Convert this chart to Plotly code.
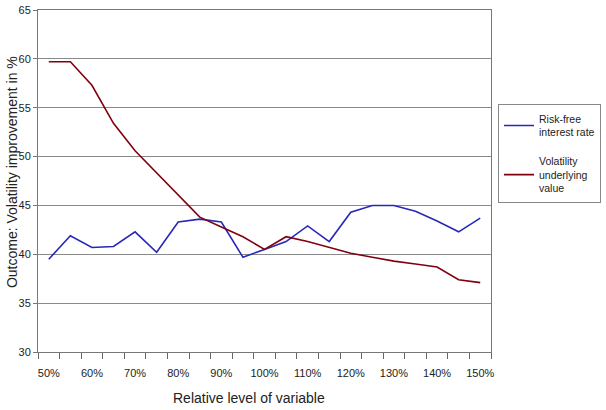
import plotly.graph_objects as go

levels = [50, 55, 60, 65, 70, 75, 80, 85, 90, 95, 100, 105, 110, 115, 120, 125, 130, 135, 140, 145, 150]
risk_free = [39.5, 41.9, 40.7, 40.8, 42.3, 40.2, 43.3, 43.6, 43.3, 39.7, 40.5, 41.3, 42.9, 41.3, 44.3, 45.0, 45.0, 44.4, 43.4, 42.3, 43.7]
volatility = [59.7, 59.7, 57.3, 53.4, 50.6, 48.3, 46.1, 43.8, 42.8, 41.8, 40.5, 41.8, 41.3, 40.7, 40.1, 39.7, 39.3, 39.0, 38.7, 37.4, 37.1]
x_tick_vals = [50, 60, 70, 80, 90, 100, 110, 120, 130, 140, 150]
x_tick_text = ["50%", "60%", "70%", "80%", "90%", "100%", "110%", "120%", "130%", "140%", "150%"]
y_ticks = [30, 35, 40, 45, 50, 55, 60, 65]

FONT = "Liberation Sans, Arial, sans-serif"
half = (levels[1] - levels[0]) / 2
boundaries = [v - half for v in levels] + [levels[-1] + half]
xrange = [boundaries[0], boundaries[-1]]

W, H = 606, 410
ML, MR, MT, MB = 38, 5, 10, 58
pw = W - ML - MR
plot_right = 491

fig = go.Figure()
fig.add_trace(go.Scatter(x=levels, y=risk_free, mode="lines", name="Risk-free<br>interest rate",
                         line=dict(color="#2828b8", width=1.6), legendgroup="a"))
fig.add_trace(go.Scatter(x=levels, y=volatility, mode="lines", name="Volatility<br>underlying<br>value",
                         line=dict(color="#800010", width=1.6), legendgroup="b"))
# invisible helper trace on the overlay axis that carries the tick labels
fig.add_trace(go.Scatter(x=levels, y=volatility, mode="lines", xaxis="x2", showlegend=False,
                         hoverinfo="skip", line=dict(width=0), opacity=0))

dom = [0, (plot_right - ML) / pw]

fig.update_layout(
    width=W, height=H,
    margin=dict(l=ML, r=MR, t=MT, b=MB, autoexpand=False),
    paper_bgcolor="white", plot_bgcolor="white",
    font=dict(family=FONT, color="#222", size=11),
    showlegend=True,
    legend=dict(x=(498 - ML) / pw, y=0.724, xanchor="left", yanchor="top",
                bordercolor="#888", borderwidth=1, bgcolor="white",
                font=dict(size=10.5, family=FONT, color="#222"),
                tracegroupgap=12, itemwidth=30),
    xaxis=dict(domain=dom, range=xrange, tickmode="array",
               tickvals=boundaries, showticklabels=False,
               ticks="outside", ticklen=6, tickcolor="#666", tickwidth=1,
               showgrid=False, zeroline=False,
               showline=True, linecolor="#777", linewidth=1, mirror=True),
    xaxis2=dict(domain=dom, range=xrange, overlaying="x", side="bottom", anchor="y",
                tickmode="array", tickvals=x_tick_vals, ticktext=x_tick_text,
                ticks="outside", ticklen=11, tickcolor="rgba(0,0,0,0)",
                showticklabels=True, showgrid=False,
                zeroline=False, showline=False,
                tickfont=dict(size=11, family=FONT, color="#222")),
    yaxis=dict(range=[30, 65], tickmode="array", tickvals=y_ticks,
               ticks="outside", ticklen=4, tickcolor="#777",
               showgrid=True, gridcolor="#8a8a8a", gridwidth=1, zeroline=False,
               showline=True, linecolor="#777", linewidth=1, mirror=True,
               tickfont=dict(size=11, family=FONT, color="#222")),
    annotations=[
        dict(text="Relative level of variable", xref="paper", yref="paper",
             x=(249 - ML) / pw, y=-0.1345, xanchor="center", yanchor="middle", showarrow=False,
             font=dict(size=14, family=FONT, color="#222")),
        dict(text="Outcome: Volatility improvement in %", xref="paper", yref="paper",
             x=(12 - ML) / pw, y=0.526, xanchor="center", yanchor="middle", showarrow=False,
             textangle=-90, font=dict(size=14, family=FONT, color="#222")),
    ],
)

fig.write_html("out.html")
